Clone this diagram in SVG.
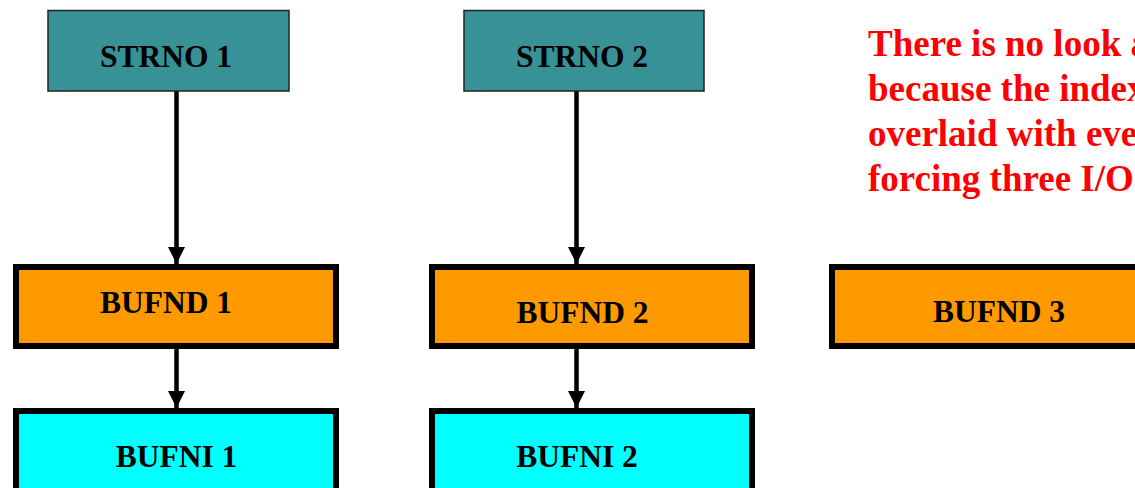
<svg xmlns="http://www.w3.org/2000/svg" width="1135" height="488" viewBox="0 0 1135 488">
<style>
.lbl{font-family:"Liberation Serif","Times New Roman",serif;font-weight:bold;font-size:31.5px;fill:#000;text-anchor:middle}
.strno{fill:#389196;stroke:#222;stroke-width:1.5}
.bufnd{fill:#FF9900;stroke:#000;stroke-width:6}
.bufni{fill:#00FFFF;stroke:#000;stroke-width:6}
.conn{stroke:#000;stroke-width:4.5;fill:none}
.note{font-family:"Liberation Serif","Times New Roman",serif;font-weight:bold;font-size:37px;fill:#FF0000}
</style>
<defs>
<marker id="ah" markerUnits="userSpaceOnUse" markerWidth="18" markerHeight="17" refX="17" refY="8.5" orient="auto" viewBox="0 0 18 17">
<path d="M0,0 L17,8.5 L0,17 Z" fill="#000"/>
</marker>
</defs>
<rect width="1135" height="488" fill="#fff"/>
<g id="connectors">
<line class="conn" x1="176.5" y1="91" x2="176.5" y2="264" marker-end="url(#ah)"/>
<line class="conn" x1="576.5" y1="91" x2="576.5" y2="264" marker-end="url(#ah)"/>
<line class="conn" x1="176.5" y1="349" x2="176.5" y2="408" marker-end="url(#ah)"/>
<line class="conn" x1="576.5" y1="349" x2="576.5" y2="408" marker-end="url(#ah)"/>
</g>
<g id="strno1"><rect class="strno" x="48" y="10.5" width="241" height="80.5"/><text class="lbl" x="166" y="67">STRNO 1</text></g>
<g id="strno2"><rect class="strno" x="464" y="10.5" width="240" height="80.5"/><text class="lbl" x="582" y="67">STRNO 2</text></g>
<g id="bufnd1"><rect class="bufnd" x="16" y="267" width="320" height="79"/><text class="lbl" x="166" y="313">BUFND 1</text></g>
<g id="bufnd2"><rect class="bufnd" x="432" y="267" width="320" height="79"/><text class="lbl" x="582.5" y="323">BUFND 2</text></g>
<g id="bufnd3"><rect class="bufnd" x="832" y="267" width="320" height="79"/><text class="lbl" x="999" y="322">BUFND 3</text></g>
<g id="bufni1"><rect class="bufni" x="16" y="411" width="320" height="90"/><text class="lbl" x="176.5" y="467">BUFNI 1</text></g>
<g id="bufni2"><rect class="bufni" x="432" y="411" width="320" height="90"/><text class="lbl" x="577" y="467">BUFNI 2</text></g>
<g id="note">
<text class="note" x="868" y="56">There is no look a</text>
<text class="note" x="868" y="101">because the index</text>
<text class="note" x="868" y="146">overlaid with eve</text>
<text class="note" x="868" y="191">forcing three I/O</text>
</g>
</svg>
